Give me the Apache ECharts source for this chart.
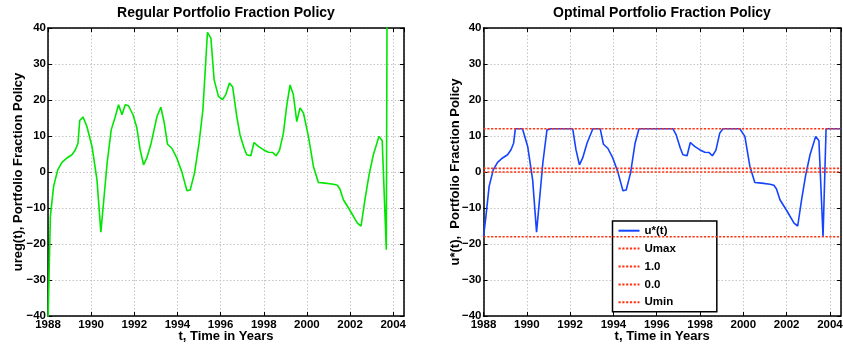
<!DOCTYPE html>
<html>
<head>
<meta charset="utf-8">
<script src="https://cdn.jsdelivr.net/npm/echarts@6/dist/echarts.min.js"></script>
<style>html,body{margin:0;padding:0;background:#fff;}#c{width:843px;height:345px;}</style>
</head>
<body>
<div id="c"></div>
<script>
// time in years
const years = [
  1988.00, 1988.11, 1988.26, 1988.45, 1988.65, 1988.88, 1989.11, 1989.27, 1989.39, 1989.47,
  1989.62, 1989.80, 1990.04, 1990.27, 1990.45, 1990.60, 1990.74, 1990.93, 1991.12, 1991.27,
  1991.43, 1991.58, 1991.73, 1991.94, 1992.12, 1992.27, 1992.43, 1992.58, 1992.78, 1993.05,
  1993.23, 1993.39, 1993.54, 1993.74, 1993.97, 1994.20, 1994.44, 1994.59, 1994.79, 1995.00,
  1995.18, 1995.39, 1995.55, 1995.70, 1995.90, 1996.09, 1996.24, 1996.41, 1996.56, 1996.75,
  1996.90, 1997.09, 1997.21, 1997.40, 1997.55, 1997.75, 1997.98, 1998.22, 1998.42, 1998.57,
  1998.73, 1998.91, 1999.06, 1999.22, 1999.37, 1999.53, 1999.68, 1999.84, 2000.07, 2000.30,
  2000.53, 2000.84, 2001.23, 2001.41, 2001.53, 2001.69, 2002.00, 2002.34, 2002.51, 2002.69,
  2002.88, 2003.08, 2003.34, 2003.49, 2003.68, 2003.82, 2004.50
];
// regular portfolio fraction policy ureg(t)
const ureg = [
  -42, -12.4, -4, 0.6, 2.7, 3.9, 4.8, 6.2, 8, 14.3,
  15.3, 12.7, 7.1, -2.2, -16.7, -6.8, 2.5, 11.7, 15.4, 18.7,
  15.9, 18.7, 18.4, 15.9, 12.2, 6.2, 2.0, 3.9, 8, 15.4,
  18, 13.6, 7.7, 6.6, 3.9, 0.1, -5.2, -5, -0.3, 8,
  17.3, 38.8, 37.2, 25.6, 21, 20.1, 21.5, 24.7, 23.6, 15.4,
  10.3, 6.6, 4.8, 4.5, 8.2, 7.1, 6.2, 5.5, 5.4, 4.5,
  6, 10.8, 18.2, 24.2, 21.5, 14, 17.8, 16.4, 9.9, 1.6,
  -2.9, -3.1, -3.4, -3.7, -4.7, -7.7, -10.7, -14.2, -15, -7.7,
  -0.8, 4.8, 9.9, 8.7, -21.6, 250, 250
];
// optimal portfolio fraction policy u*(t)
const uopt = [
  -18, -12.4, -4, 0.6, 2.7, 3.9, 4.8, 6.2, 8, 12,
  12, 12, 7.1, -2.2, -16.7, -6.8, 2.5, 11.7, 12, 12,
  12, 12, 12, 12, 12, 6.2, 2.0, 3.9, 8, 12,
  12, 12, 7.7, 6.6, 3.9, 0.1, -5.2, -5, -0.3, 8,
  12, 12, 12, 12, 12, 12, 12, 12, 12, 12,
  10.3, 6.6, 4.8, 4.5, 8.2, 7.1, 6.2, 5.5, 5.4, 4.5,
  6, 10.8, 12, 12, 12, 12, 12, 12, 9.9, 1.6,
  -2.9, -3.1, -3.4, -3.7, -4.7, -7.7, -10.7, -14.2, -15, -7.7,
  -0.8, 4.8, 9.9, 8.7, -18, 12, 12
];
// reference levels
const refNames = ['Umax', '1.0', '0.0', 'Umin'];
const refValues = [12, 1.0, 0.0, -18];
const xTicks = [1988, 1990, 1992, 1994, 1996, 1998, 2000, 2002, 2004];
const yTicks = [-40, -30, -20, -10, 0, 10, 20, 30, 40];
const xRange = [1988, 2004.5];
const yRange = [-40, 40];

const FONT = "'Liberation Sans', Arial, Helvetica, sans-serif";
const chart = echarts.init(document.getElementById('c'));

function pairs(xs, ys) { return xs.map((x, i) => [x, ys[i]]); }

function xAx(grid, pos, main, name) {
  return {
    type: 'value', gridIndex: grid, position: pos,
    min: xRange[0], max: xRange[1], interval: xTicks[1] - xTicks[0],
    name: main ? name : '', nameLocation: 'middle', nameGap: 14, nameMoveOverlap: false,
    nameTextStyle: {fontFamily: FONT, fontWeight: 'bold', fontSize: 13, color: '#000'},
    axisLine: {show: true, onZero: false, lineStyle: {color: '#000', width: 1.5}},
    axisTick: {show: true, inside: true, length: 4, lineStyle: {color: '#000', width: 1}},
    axisLabel: {show: main, margin: 3, fontFamily: FONT, fontWeight: 'bold', fontSize: 11.5, color: '#000',
      showMaxLabel: false,
      formatter: v => xTicks.indexOf(v) >= 0 ? String(v) : ''},
    splitLine: {show: main, lineStyle: {color: '#c4c4c4', type: [1.5, 2], width: 1}}
  };
}
function yAx(grid, pos, main, name, gap) {
  return {
    type: 'value', gridIndex: grid, position: pos,
    min: yRange[0], max: yRange[1], interval: yTicks[1] - yTicks[0],
    name: main ? name : '', nameLocation: 'middle', nameGap: gap, nameMoveOverlap: false,
    nameTextStyle: {fontFamily: FONT, fontWeight: 'bold', fontSize: 13, color: '#000'},
    axisLine: {show: true, onZero: false, lineStyle: {color: '#000', width: 1.5}},
    axisTick: {show: true, inside: true, length: 4, lineStyle: {color: '#000', width: 1}},
    axisLabel: {show: main, margin: 2, fontFamily: FONT, fontWeight: 'bold', fontSize: 11.5, color: '#000',
      formatter: v => String(v).replace('-', '\u2212')},
    splitLine: {show: main, lineStyle: {color: '#c4c4c4', type: [1.5, 2], width: 1}}
  };
}

const series = [
  {name: 'ureg(t)', type: 'line', xAxisIndex: 0, yAxisIndex: 0, data: pairs(years, ureg),
   symbol: 'none', clip: true, lineStyle: {color: '#00e600', width: 1.6}, itemStyle: {color: '#00e600'}, z: 3},
  {name: 'u*(t)', type: 'line', xAxisIndex: 2, yAxisIndex: 2, data: pairs(years, uopt),
   symbol: 'none', clip: true, lineStyle: {color: '#1444ff', width: 1.6}, itemStyle: {color: '#1444ff'}, z: 3}
];
refNames.forEach((n, i) => {
  series.push({name: n, type: 'line', xAxisIndex: 2, yAxisIndex: 2,
    data: [[xRange[0], refValues[i]], [xRange[1], refValues[i]]],
    symbol: 'none', clip: true,
    lineStyle: {color: '#ff3311', width: 1.6, type: [2.2, 1.6]}, itemStyle: {color: '#ff3311'}, z: 4});
});

chart.setOption({
  animation: false,
  backgroundColor: '#fff',
  title: [
    {text: 'Regular Portfolio Fraction Policy', left: 226, top: 6, textAlign: 'center', padding: 0,
     textStyle: {fontFamily: FONT, fontWeight: 'bold', fontSize: 14, color: '#000'}},
    {text: 'Optimal Portfolio Fraction Policy', left: 662, top: 6, textAlign: 'center', padding: 0,
     textStyle: {fontFamily: FONT, fontWeight: 'bold', fontSize: 14, color: '#000'}}
  ],
  grid: [
    {left: 48, top: 28, width: 356, height: 288, outerBoundsMode: 'none', containLabel: false},
    {left: 483.5, top: 28, width: 357.3, height: 288, outerBoundsMode: 'none', containLabel: false}
  ],
  xAxis: [
    xAx(0, 'bottom', true, 't, Time in Years'),
    xAx(0, 'top', false, ''),
    xAx(1, 'bottom', true, 't, Time in Years'),
    xAx(1, 'top', false, '')
  ],
  yAxis: [
    yAx(0, 'left', true, 'ureg(t), Portfolio Fraction Policy', 23),
    yAx(0, 'right', false, '', 0),
    yAx(1, 'left', true, 'u*(t),  Portfolio Fraction Policy', 22),
    yAx(1, 'right', false, '', 0)
  ],
  legend: {
    data: ['u*(t)', 'Umax', '1.0', '0.0', 'Umin'],
    orient: 'vertical', left: 612.5, top: 221,
    itemWidth: 21, itemHeight: 14, itemGap: 3.9,
    padding: [2.7, 41, 2.4, 5],
    itemStyle: {opacity: 0},
    backgroundColor: '#fff', borderColor: '#000', borderWidth: 1.5, borderRadius: 0,
    textStyle: {fontFamily: FONT, fontWeight: 'bold', fontSize: 11.5, color: '#000', lineHeight: 14},
    selectedMode: false
  },
  series: series
});
</script>
</body>
</html>
